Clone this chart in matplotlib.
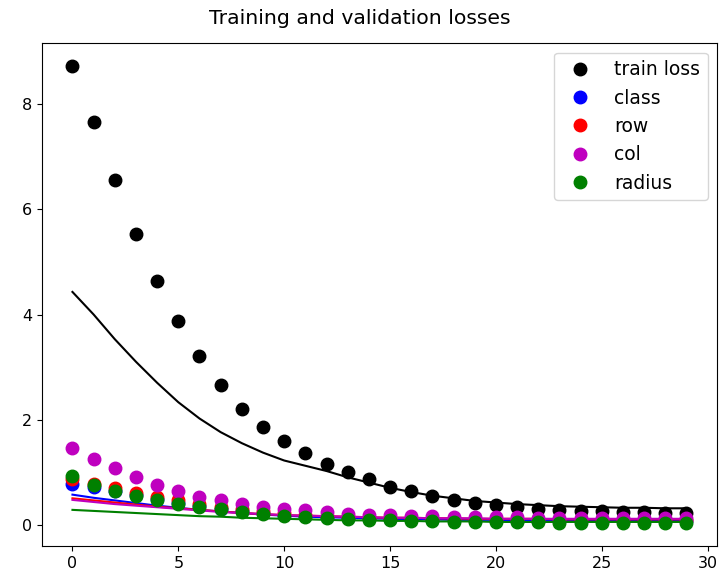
import numpy as np
import matplotlib.pyplot as plt

epochs = np.arange(30)

train_loss = [8.73, 7.66, 6.56, 5.53, 4.64, 3.88, 3.21, 2.66, 2.20, 1.86,
              1.60, 1.37, 1.16, 1.00, 0.86, 0.72, 0.63, 0.54, 0.47, 0.41,
              0.37, 0.33, 0.30, 0.28, 0.26, 0.25, 0.24, 0.23, 0.22, 0.22]
class_loss = [0.78, 0.72, 0.64, 0.56, 0.48, 0.41, 0.35, 0.30, 0.26, 0.22,
              0.19, 0.17, 0.15, 0.13, 0.12, 0.11, 0.10, 0.09, 0.09, 0.08,
              0.08, 0.07, 0.07, 0.07, 0.07, 0.06, 0.06, 0.06, 0.06, 0.06]
row_loss = [0.86, 0.77, 0.70, 0.61, 0.53, 0.46, 0.40, 0.34, 0.29, 0.25,
            0.22, 0.19, 0.17, 0.15, 0.13, 0.12, 0.11, 0.10, 0.10, 0.09,
            0.09, 0.09, 0.08, 0.08, 0.08, 0.08, 0.08, 0.08, 0.08, 0.08]
col_loss = [1.46, 1.24, 1.07, 0.90, 0.75, 0.63, 0.53, 0.46, 0.40, 0.34,
            0.30, 0.27, 0.24, 0.21, 0.19, 0.18, 0.17, 0.16, 0.15, 0.15,
            0.14, 0.14, 0.13, 0.13, 0.13, 0.12, 0.12, 0.12, 0.12, 0.12]
radius_loss = [0.92, 0.75, 0.64, 0.55, 0.47, 0.40, 0.34, 0.29, 0.24, 0.20,
               0.17, 0.14, 0.12, 0.10, 0.09, 0.08, 0.07, 0.06, 0.05, 0.05,
               0.04, 0.04, 0.04, 0.03, 0.03, 0.03, 0.03, 0.03, 0.03, 0.03]

val_loss = [4.43, 4.00, 3.53, 3.10, 2.70, 2.33, 2.02, 1.76, 1.55, 1.37,
            1.22, 1.12, 1.02, 0.90, 0.80, 0.70, 0.62, 0.55, 0.50, 0.45,
            0.42, 0.39, 0.37, 0.35, 0.34, 0.33, 0.32, 0.32, 0.31, 0.31]
val_class = [0.57, 0.51, 0.46, 0.41, 0.36, 0.32, 0.28, 0.25, 0.22, 0.19,
             0.17, 0.15, 0.14, 0.13, 0.12, 0.11, 0.10, 0.10, 0.09, 0.09,
             0.09, 0.08, 0.08, 0.08, 0.08, 0.08, 0.08, 0.08, 0.08, 0.08]
val_row = [0.50, 0.46, 0.42, 0.38, 0.34, 0.31, 0.28, 0.25, 0.22, 0.20,
           0.18, 0.17, 0.16, 0.15, 0.14, 0.13, 0.13, 0.12, 0.12, 0.11,
           0.11, 0.11, 0.11, 0.10, 0.10, 0.10, 0.10, 0.10, 0.10, 0.10]
val_col = [0.47, 0.43, 0.39, 0.36, 0.33, 0.30, 0.27, 0.24, 0.22, 0.20,
           0.18, 0.17, 0.16, 0.15, 0.14, 0.13, 0.13, 0.12, 0.12, 0.12,
           0.11, 0.11, 0.11, 0.11, 0.11, 0.11, 0.11, 0.11, 0.11, 0.11]
val_radius = [0.28, 0.26, 0.24, 0.22, 0.20, 0.18, 0.16, 0.15, 0.13, 0.12,
              0.11, 0.10, 0.09, 0.08, 0.08, 0.07, 0.07, 0.06, 0.06, 0.06,
              0.05, 0.05, 0.05, 0.05, 0.05, 0.05, 0.05, 0.05, 0.05, 0.05]

series = [
    ('train loss', 'k', train_loss, val_loss),
    ('class', 'b', class_loss, val_class),
    ('row', 'r', row_loss, val_row),
    ('col', 'm', col_loss, val_col),
    ('radius', 'g', radius_loss, val_radius),
]

fig = plt.figure(figsize=(7.2, 5.77), dpi=100)
ax = fig.add_axes([0.058, 0.054, 0.938, 0.871])

for name, c, tr, va in series:
    ax.plot(epochs, tr, c + 'o', markersize=9, label=name)
    ax.plot(epochs, va, c, linewidth=1.5)

fig.suptitle('Training and validation losses', fontsize=14.7, x=0.5, y=0.985)
ax.tick_params(labelsize=11.5)
ax.legend(fontsize=13.5, numpoints=1, loc='upper right')

fig.savefig('out.png', dpi=100)
